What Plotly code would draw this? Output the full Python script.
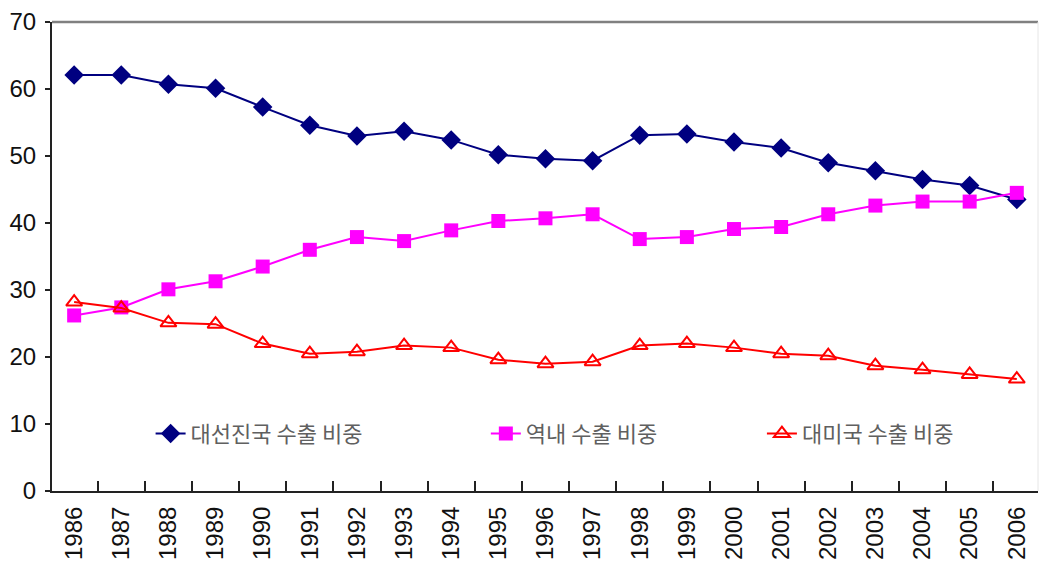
import plotly.graph_objects as go

years = [str(y) for y in range(1986, 2007)]

# 대선진국 수출 비중 (share of exports to advanced economies, %)
advanced = [62.1, 62.1, 60.7, 60.1, 57.3, 54.6, 53.0, 53.7, 52.4, 50.2,
            49.6, 49.3, 53.1, 53.3, 52.1, 51.2, 49.0, 47.8, 46.5, 45.6, 43.5]
# 역내 수출 비중 (intra-regional export share, %)
intra = [26.2, 27.4, 30.1, 31.3, 33.5, 36.0, 37.9, 37.3, 38.9, 40.3,
         40.7, 41.3, 37.6, 37.9, 39.1, 39.4, 41.3, 42.6, 43.2, 43.2, 44.5]
# 대미국 수출 비중 (export share to the US, %)
usa = [28.2, 27.3, 25.1, 24.9, 22.0, 20.5, 20.8, 21.7, 21.4, 19.6,
       19.0, 19.3, 21.7, 22.0, 21.4, 20.5, 20.2, 18.7, 18.1, 17.4, 16.7]

series_names = ["대선진국 수출 비중", "역내 수출 비중", "대미국 수출 비중"]
y_ticks = [0, 10, 20, 30, 40, 50, 60, 70]

fig = go.Figure()
fig.add_trace(go.Scatter(
    x=years, y=advanced, name=series_names[0], mode="lines+markers",
    line=dict(color="#000080", width=2),
    marker=dict(symbol="diamond", size=15, color="#000080"),
    legend="legend", showlegend=True,
))
fig.add_trace(go.Scatter(
    x=years, y=intra, name=series_names[1], mode="lines+markers",
    line=dict(color="#FF00FF", width=2),
    marker=dict(symbol="square", size=14, color="#FF00FF"),
    legend="legend2", showlegend=True,
))
fig.add_trace(go.Scatter(
    x=years, y=usa, name=series_names[2], mode="lines+markers",
    line=dict(color="#FF0000", width=2),
    marker=dict(symbol="triangle-up-open", size=14, color="#FF0000",
                line=dict(width=2, color="#FF0000")),
    legend="legend3", showlegend=True,
))

legend_style = dict(
    orientation="h", yanchor="middle", xanchor="left", y=0.122,
    bgcolor="rgba(0,0,0,0)",
    font=dict(family="Noto Sans CJK KR, Liberation Sans", size=22, color="#606060"),
)

fig.update_layout(
    width=1040, height=569,
    margin=dict(l=52, r=2, t=22, b=78),
    paper_bgcolor="white", plot_bgcolor="white",
    showlegend=True,
    font=dict(family="Liberation Sans, Arial, sans-serif", color="#111111"),
    legend=dict(x=0.1, **legend_style),
    legend2=dict(x=0.44, **legend_style),
    legend3=dict(x=0.72, **legend_style),
    xaxis=dict(
        type="category", range=[-0.47, 20.45],
        showline=True, linecolor="#222222", linewidth=2,
        ticks="inside", tickson="boundaries", ticklen=10,
        tickwidth=1.5, tickcolor="#222222",
        tickangle=-90, tickfont=dict(size=24, color="#111111"),
        ticklabelstandoff=4,
        showgrid=False, zeroline=False,
    ),
    yaxis=dict(
        range=[0, 70], tickvals=y_ticks,
        showline=True, linecolor="#222222", linewidth=2,
        ticks="outside", ticklen=5, tickwidth=1.5, tickcolor="#222222",
        tickfont=dict(size=24, color="#111111"),
        ticklabelstandoff=4,
        showgrid=False, zeroline=False,
    ),
    shapes=[
        dict(type="line", xref="paper", yref="paper", x0=0, x1=1, y0=1, y1=1,
             line=dict(color="#808080", width=2.5)),
        dict(type="line", xref="paper", yref="paper", x0=1, x1=1, y0=0, y1=1,
             line=dict(color="#E6E6E6", width=1)),
    ],
)

fig.write_html("out.html")
